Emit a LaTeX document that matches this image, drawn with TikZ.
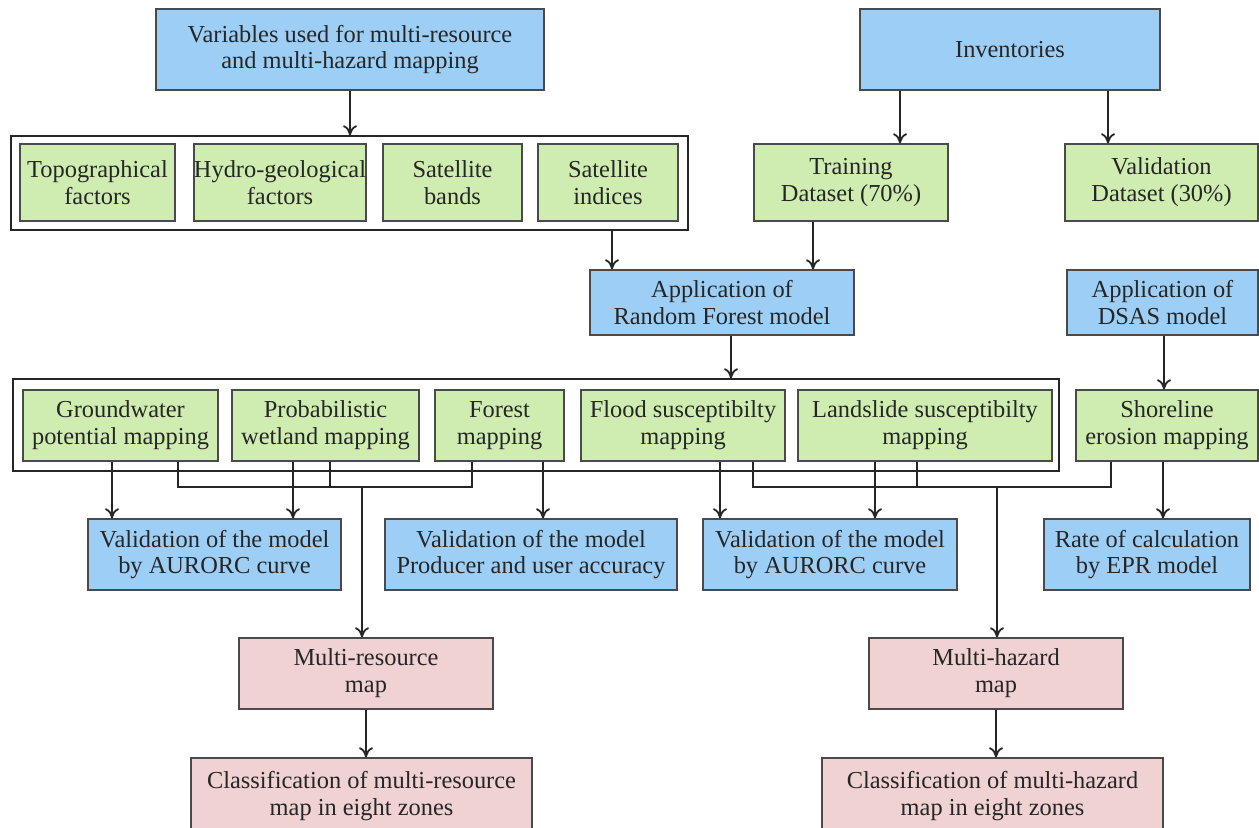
\documentclass[tikz,border=0pt]{standalone}
\usepackage{fontspec}
\setmainfont{Liberation Serif}
\usetikzlibrary{arrows.meta}
\definecolor{boxblue}{HTML}{9DCFF6}
\definecolor{boxgreen}{HTML}{CFEDB1}
\definecolor{boxpink}{HTML}{EFD2D1}
\definecolor{edgegray}{HTML}{4A4A4A}

\begin{document}
\begin{tikzpicture}[x=0.5pt,y=-0.5pt,
    box/.style={draw=edgegray, line width=0.7pt, rectangle, inner sep=0pt, align=center,
        font=\fontsize{12.2}{13.4}\selectfont, text=black!85},
    bluebox/.style={box, fill=boxblue},
    greenbox/.style={box, fill=boxgreen},
    pinkbox/.style={box, fill=boxpink},
    groupbox/.style={draw=black!85, line width=0.7pt, rectangle, inner sep=0pt},
    arr/.style={-{To[length=5pt,width=7pt]}, line width=0.9pt, draw=black!85},
    link/.style={line width=0.9pt, draw=black!85}]

        \fill[white] (0,0) rectangle (1259,828);
        \useasboundingbox (0,0) rectangle (1259,828);

        % Inputs
        \node[bluebox, minimum width=194pt, minimum height=40.5pt] (vars) at (350,49.5) {Variables used for multi-resource\\and multi-hazard mapping};
        \node[bluebox, minimum width=150pt, minimum height=40.5pt] (inv) at (1010,49.5) {Inventories};

        % Variables and data split
        \node[groupbox, minimum width=338.5pt, minimum height=47pt] (vargroup) at (349.5,183) {};
        \node[greenbox, minimum width=77.5pt, minimum height=38.5pt] (topo) at (97.5,182.5) {Topographical\\factors};
        \node[greenbox, minimum width=84pt, minimum height=38.5pt] (hydro) at (280,182.5) {Hydro-geological\\factors};
        \node[greenbox, minimum width=69.5pt, minimum height=38.5pt] (bands) at (452.5,182.5) {Satellite\\bands};
        \node[greenbox, minimum width=70pt, minimum height=38.5pt] (indices) at (608,182.5) {Satellite\\indices};
        \node[greenbox, minimum width=97pt, minimum height=38.5pt] (train) at (851,182.5) {Training\\Dataset (70\%)};
        \node[greenbox, minimum width=96.5pt, minimum height=38.5pt] (valdata) at (1161.5,182.5) {Validation\\Dataset (30\%)};

        % Models
        \node[bluebox, minimum width=132pt, minimum height=32.5pt] (apprf) at (722,302.5) {Application of\\Random Forest model};
        \node[bluebox, minimum width=95.5pt, minimum height=32.5pt] (appdsas) at (1162.5,302.5) {Application of\\DSAS model};

        % Mapping outputs
        \node[groupbox, minimum width=523pt, minimum height=46pt] (mapgroup) at (536,425) {};
        \node[greenbox, minimum width=97.5pt, minimum height=35.5pt] (gw) at (120.5,425.5) {Groundwater\\potential mapping};
        \node[greenbox, minimum width=93.5pt, minimum height=35.5pt] (prob) at (325.5,425.5) {Probabilistic\\wetland mapping};
        \node[greenbox, minimum width=64.5pt, minimum height=35.5pt] (forest) at (499.5,425.5) {Forest\\mapping};
        \node[greenbox, minimum width=102pt, minimum height=35.5pt] (flood) at (683,425.5) {Flood susceptibilty\\mapping};
        \node[greenbox, minimum width=127pt, minimum height=35.5pt] (land) at (925,425.5) {Landslide susceptibilty\\mapping};
        \node[greenbox, minimum width=91pt, minimum height=35.5pt] (shore) at (1167,425.5) {Shoreline\\erosion mapping};

        % Validation
        \node[bluebox, minimum width=126.5pt, minimum height=35.5pt] (val1) at (214.5,554.5) {Validation of the model\\by AURORC curve};
        \node[bluebox, minimum width=146pt, minimum height=35.5pt] (val2) at (531,554.5) {Validation of the model\\Producer and user accuracy};
        \node[bluebox, minimum width=127pt, minimum height=35.5pt] (val3) at (830,554.5) {Validation of the model\\by AURORC curve};
        \node[bluebox, minimum width=103pt, minimum height=35.5pt] (rate) at (1147,554.5) {Rate of calculation\\by EPR model};

        % Final maps
        \node[pinkbox, minimum width=127pt, minimum height=35.5pt] (mr) at (366,673.5) {Multi-resource\\map};
        \node[pinkbox, minimum width=127pt, minimum height=35.5pt] (mh) at (996,673.5) {Multi-hazard\\map};
        \node[pinkbox, minimum width=170.5pt, minimum height=38pt] (cmr) at (361.5,796) {Classification of multi-resource\\map in eight zones};
        \node[pinkbox, minimum width=170.5pt, minimum height=38pt] (cmh) at (992.5,796) {Classification of multi-hazard\\map in eight zones};

        % Arrows
        \draw[arr] (vars.south) -- (vars.south |- vargroup.north);
        \draw[arr] (inv.south -| 900,0) -- (train.north -| 900,0);
        \draw[arr] (inv.south -| 1108,0) -- (valdata.north -| 1108,0);
        \draw[arr] (vargroup.south -| 612,0) -- (apprf.north -| 612,0);
        \draw[arr] (train.south -| 813,0) -- (apprf.north -| 813,0);
        \draw[arr] (apprf.south -| 731,0) -- (mapgroup.north -| 731,0);
        \draw[arr] (appdsas.south -| 1164,0) -- (shore.north -| 1164,0);

        \draw[arr] (gw.south -| 112,0) -- (val1.north -| 112,0);
        \draw[arr] (prob.south -| 293,0) -- (val1.north -| 293,0);
        \draw[arr] (forest.south -| 543,0) -- (val2.north -| 543,0);
        \draw[arr] (flood.south -| 720,0) -- (val3.north -| 720,0);
        \draw[arr] (land.south -| 875,0) -- (val3.north -| 875,0);
        \draw[arr] (shore.south -| 1163,0) -- (rate.north -| 1163,0);

        % Buses to the combined maps
        \coordinate (busL) at (362,487);
        \coordinate (busR) at (997,487);
        \draw[link] (gw.south -| 178,0) |- (busL) -| (forest.south -| 472,0);
        \draw[link] (prob.south -| 330,0) |- (busL);
        \draw[arr] (busL) -- (busL |- mr.north);
        \draw[link] (flood.south -| 753,0) |- (busR) -| (shore.south -| 1111,0);
        \draw[link] (land.south -| 917,0) |- (busR);
        \draw[arr] (busR) -- (busR |- mh.north);

        \draw[arr] (mr.south) -- (mr.south |- cmr.north);
        \draw[arr] (mh.south) -- (mh.south |- cmh.north);
\end{tikzpicture}
\end{document}
